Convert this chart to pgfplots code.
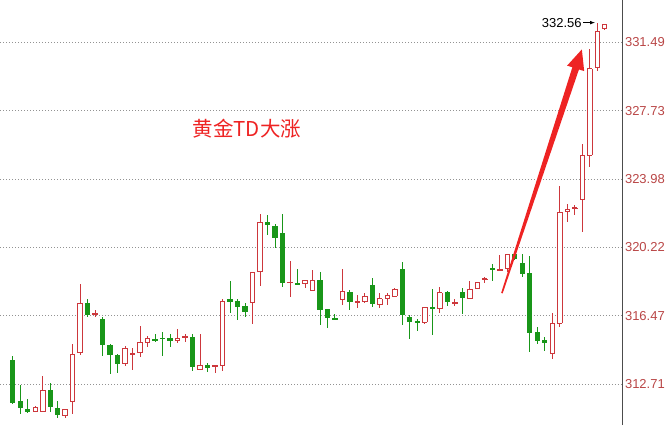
\documentclass[border=0pt]{standalone}
\usepackage{fontspec}
\setmainfont{Liberation Sans}
\newfontfamily\cjk{Noto Sans CJK SC}
\usepackage{pgfplots}
\pgfplotsset{compat=1.18}
\usepackage{pgfplotstable}
\definecolor{cred}{RGB}{205,55,60}
\definecolor{cgreen}{RGB}{25,150,25}
\definecolor{lbl}{RGB}{185,70,70}
\definecolor{annot}{RGB}{238,35,35}

\pgfplotstableread{
i o h l c
0 314.04 314.28 311.66 311.70
1 311.75 312.67 311.06 311.42
2 311.31 311.90 311.12 311.23
3 311.21 311.52 311.19 311.42
4 311.21 313.16 311.21 312.38
5 312.38 312.79 311.19 311.48
6 311.39 311.79 310.88 311.08
7 311.02 311.31 310.84 311.31
8 311.79 314.90 311.06 314.35
9 314.44 318.21 314.31 317.15
10 317.15 317.38 316.40 316.54
11 316.54 316.80 316.41 316.60
12 316.27 316.41 314.26 314.90
13 314.86 314.90 313.27 314.37
14 314.30 314.37 313.34 313.86
15 313.86 314.81 313.71 314.68
16 314.35 314.68 313.49 314.40
17 314.44 315.90 314.19 315.04
18 315.03 315.36 314.74 315.26
19 315.19 315.47 315.04 315.12
20 315.26 315.61 314.26 315.23
21 315.23 315.50 314.77 315.14
22 315.14 315.74 314.99 315.23
23 315.28 315.45 315.04 315.37
24 315.28 315.50 313.44 313.71
25 313.55 315.47 313.49 313.75
26 313.73 313.86 313.40 313.62
27 313.67 313.80 313.31 313.73
28 313.75 317.37 313.44 317.29
29 317.37 318.39 316.63 317.29
30 317.26 317.40 316.27 317.00
31 317.00 317.15 316.41 316.73
32 317.20 318.88 316.01 318.85
33 318.92 322.04 318.10 321.62
34 321.59 322.00 320.93 321.50
35 321.39 321.50 320.22 320.80
36 320.99 322.08 318.06 318.33
37 318.28 319.47 317.51 318.33
38 318.24 319.03 318.17 318.19
39 318.24 318.43 318.02 318.39
40 317.88 318.97 317.88 318.39
41 318.39 318.88 315.96 316.84
42 316.82 316.87 315.81 316.36
43 316.33 316.60 316.29 316.29
44 317.38 319.03 317.05 317.82
45 317.73 317.89 316.78 317.24
46 317.22 317.60 316.91 317.28
47 317.24 317.70 317.20 317.56
48 318.15 318.55 316.93 317.15
49 317.09 317.73 316.91 317.42
50 317.42 317.75 317.05 317.60
51 317.56 318.00 317.51 317.92
52 319.03 319.40 315.96 316.56
53 316.41 316.51 315.19 316.18
54 316.14 316.29 315.63 316.11
55 316.11 316.96 316.05 316.93
56 316.93 317.93 315.41 316.87
57 316.87 318.06 316.65 317.75
58 317.75 317.82 317.02 317.27
59 317.18 317.38 317.02 317.22
60 317.78 318.00 316.60 317.48
61 317.42 318.37 317.38 317.93
62 317.97 318.30 317.97 318.30
63 318.45 318.61 318.30 318.50
64 319.07 319.29 318.37 319.00
65 318.99 319.80 318.94 319.03
66 319.08 319.89 318.88 319.85
67 319.85 319.92 319.55 319.61
68 319.33 319.85 318.62 318.79
69 318.79 319.74 314.49 315.54
70 315.54 315.86 314.95 315.14
71 315.10 315.32 314.55 314.99
72 314.41 316.60 314.08 316.05
73 316.08 323.58 315.86 322.17
74 322.21 322.59 321.62 322.33
75 322.35 322.54 321.99 322.40
76 322.85 325.92 321.07 325.28
77 325.28 331.13 324.64 330.03
78 330.12 332.56 329.90 332.09
79 332.22 332.50 332.15 332.46
}\ohlc

\pgfplotsset{
  vbar/.style 2 args={draw=none, fill=none, mark=none, forget plot,
    error bars/y dir=both, error bars/y explicit, error bars/error mark=none,
    error bars/error bar style={draw=#1, line width=#2}},
  hbar/.style={draw=none, fill=none, mark=none, forget plot,
    error bars/x dir=both, error bars/x fixed=0.353, error bars/error mark=none,
    error bars/error bar style={draw=#1, line width=0.8pt}},
  up/.style={restrict expr to domain={\thisrow{c}-\thisrow{o}}{0:100}},
  dn/.style={restrict expr to domain={\thisrow{c}-\thisrow{o}}{-100:0}},
}

\begin{document}
\begin{tikzpicture}
\begin{axis}[
  scale only axis, width=623pt, height=425pt,
  xmin=-1.64, xmax=81.43, ymin=310.48, ymax=333.78,
  axis x line=none, axis y line*=right,
  y axis line style={draw=black!70, line width=0.8pt},
  ytick={312.71,316.47,320.22,323.98,327.73,331.49},
  yticklabels={312.71,316.47,320.22,323.98,327.73,331.49},
  major tick length=0pt,
  yticklabel style={font=\fontsize{13}{14}\selectfont, text=lbl, anchor=west,
    inner sep=0pt, xshift=2pt, text width=45pt, align=left},
  ymajorgrids,
  grid style={gray!85, line width=0.8pt, dash pattern=on 0.8pt off 2.2pt},
]
% ---- falling candles (green, filled)
\addplot[dn, vbar={cgreen}{0.8pt}] table[x=i, y expr=(\thisrow{h}+\thisrow{l})/2,
  y error expr=(\thisrow{h}-\thisrow{l})/2] {\ohlc};
\addplot[dn, vbar={cgreen}{5.3pt}] table[x=i, y expr=(\thisrow{o}+\thisrow{c})/2,
  y error expr=(\thisrow{o}-\thisrow{c})/2] {\ohlc};
\addplot[dn, hbar=cgreen] table[x=i, y=o] {\ohlc};
\addplot[dn, hbar=cgreen] table[x=i, y=c] {\ohlc};
% ---- rising candles (red, hollow)
\addplot[up, vbar={cred}{0.8pt}] table[x=i, y expr=(\thisrow{h}+\thisrow{l})/2,
  y error expr=(\thisrow{h}-\thisrow{l})/2] {\ohlc};
\addplot[up, vbar={white}{4.4pt}] table[x=i, y expr=(\thisrow{o}+\thisrow{c})/2,
  y error expr=(\thisrow{c}-\thisrow{o})/2] {\ohlc};
\addplot[up, vbar={cred}{0.8pt}] table[x expr=\thisrow{i}-0.3, y expr=(\thisrow{o}+\thisrow{c})/2,
  y error expr=(\thisrow{c}-\thisrow{o})/2] {\ohlc};
\addplot[up, vbar={cred}{0.8pt}] table[x expr=\thisrow{i}+0.3, y expr=(\thisrow{o}+\thisrow{c})/2,
  y error expr=(\thisrow{c}-\thisrow{o})/2] {\ohlc};
\addplot[up, hbar=cred] table[x=i, y=o] {\ohlc};
\addplot[up, hbar=cred] table[x=i, y=c] {\ohlc};
% red trend arrow
\fill[annot] (axis cs:75.96,331.09) -- (axis cs:76.27,329.90) -- (axis cs:75.57,329.99)
  -- (axis cs:65.39,317.70) -- (axis cs:65.19,317.73) -- (axis cs:74.69,330.11)
  -- (axis cs:73.99,330.20) -- cycle;
% title text
\node[anchor=west, inner sep=0pt, text=annot, font=\cjk\fontsize{20.5}{22}\selectfont]
  at (axis cs:24.0,326.76) {黄金TD大涨};
% max annotation
\node[anchor=east, inner sep=0pt, font=\fontsize{13}{14}\selectfont]
  at (axis cs:75.96,332.56) {332.56};
\draw[-latex, line width=0.7pt] (axis cs:76.15,332.56) -- (axis cs:77.7,332.56);
\end{axis}
\end{tikzpicture}
\end{document}
